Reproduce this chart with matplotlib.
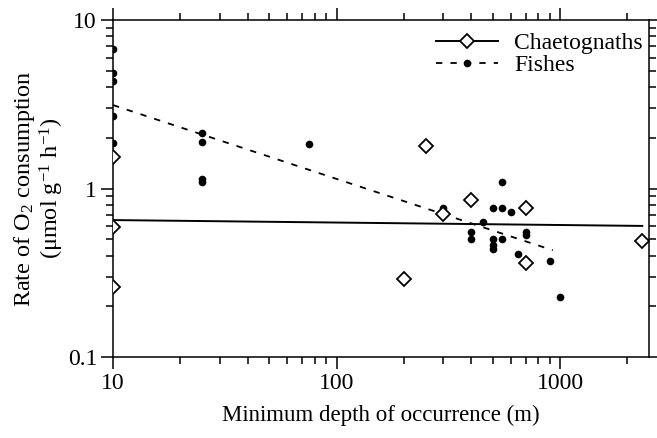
# Oxygen consumption rate vs minimum depth of occurrence
import matplotlib
matplotlib.use("Agg")
import matplotlib.pyplot as plt
from matplotlib.ticker import LogLocator, NullFormatter

plt.rcParams['font.family'] = ['Liberation Serif', 'DejaVu Serif']
plt.rcParams['mathtext.fontset'] = 'custom'
plt.rcParams['mathtext.rm'] = 'Liberation Serif'
plt.rcParams['mathtext.it'] = 'Liberation Serif:italic'
plt.rcParams['mathtext.default'] = 'regular'

# Chaetognaths (open diamonds)
chaet_depth = [10, 10, 10, 200, 250, 300, 400, 700, 700, 2330]
chaet_rate = [1.54, 0.59, 0.26, 0.29, 1.8, 0.71, 0.85, 0.77, 0.36, 0.485]
# fitted line for chaetognaths (ends)
chaet_fit_x = [10, 2330]
chaet_fit_y = [0.65, 0.60]

# Fishes (filled dots)
fish_depth = [10, 10, 10, 10, 10, 25, 25, 25, 25, 75, 300, 400, 400, 450,
              500, 500, 500, 500, 550, 550, 550, 600, 650, 700, 700, 900, 1000]
fish_rate = [6.7, 4.85, 4.35, 2.7, 1.87, 2.13, 1.88, 1.14, 1.09, 1.84, 0.77,
             0.55, 0.50, 0.635, 0.77, 0.50, 0.46, 0.44, 1.09, 0.77, 0.50,
             0.73, 0.41, 0.55, 0.53, 0.37, 0.226]
# fitted line for fishes
fish_fit_x = [10, 927]
fish_fit_y = [3.13, 0.43]

xtick_vals = [10, 100, 1000]
xtick_labels = ['10', '100', '1000']
ytick_vals = [0.1, 1, 10]
ytick_labels = ['0.1', '1', '10']

fig = plt.figure(figsize=(6.57, 4.38), dpi=100)
ax = fig.add_axes([0.172, 0.185, 0.816, 0.769])

# lines
ax.plot(chaet_fit_x, chaet_fit_y, color='black', lw=1.4, zorder=2)
fl, = ax.plot(fish_fit_x, fish_fit_y, color='black', lw=1.3, zorder=2)
fl.set_dashes((3.5, 4.5))

# points
ax.plot(fish_depth, fish_rate, 'o', color='black', ms=5.5, mew=0, zorder=3)
ax.plot(chaet_depth, chaet_rate, 'D', mfc='white', mec='black', ms=7.5,
        mew=1.3, zorder=4)

# legend handles
h1, = ax.plot([], [], color='black', lw=1.4, marker='D', mfc='white',
              mec='black', ms=7.5, mew=1.3)
h2, = ax.plot([], [], color='black', lw=1.3, marker='o', ms=5.5, mew=0)
h2.set_dashes((3.5, 4.5))
ax.legend([h1, h2], ['Chaetognaths', 'Fishes'], loc='upper right',
          bbox_to_anchor=(0.997, 0.976), frameon=False, fontsize=17,
          handlelength=2.6, handletextpad=0.7, labelspacing=0.0,
          borderaxespad=0.1, borderpad=0.1)

ax.set_xscale('log')
ax.set_yscale('log')
ax.set_xlim(10, 2500)
ax.set_ylim(0.1, 10)

ax.set_xticks(xtick_vals)
ax.set_xticklabels(xtick_labels)
ax.set_yticks(ytick_vals)
ax.set_yticklabels(ytick_labels)
ax.xaxis.set_minor_locator(LogLocator(base=10, subs=range(2, 10)))
ax.yaxis.set_minor_locator(LogLocator(base=10, subs=range(2, 10)))
ax.xaxis.set_minor_formatter(NullFormatter())
ax.yaxis.set_minor_formatter(NullFormatter())

ax.tick_params(which='both', direction='out', top=True, right=True,
               width=1.1, labelsize=17, colors='black')
ax.tick_params(which='major', length=8.5, pad=3)
ax.tick_params(which='minor', length=5)
for s in ax.spines.values():
    s.set_linewidth(1.1)

ax.set_xlabel('Minimum depth of occurrence (m)', fontsize=16.5, labelpad=8)
ax.set_ylabel('Rate of O$_2$ consumption\n($\\mu$mol g$^{-1}$ h$^{-1}$)',
              fontsize=17.5, linespacing=1.05)
ax.yaxis.set_label_coords(-0.088, 0.5)

fig.savefig('out.png', dpi=100)
